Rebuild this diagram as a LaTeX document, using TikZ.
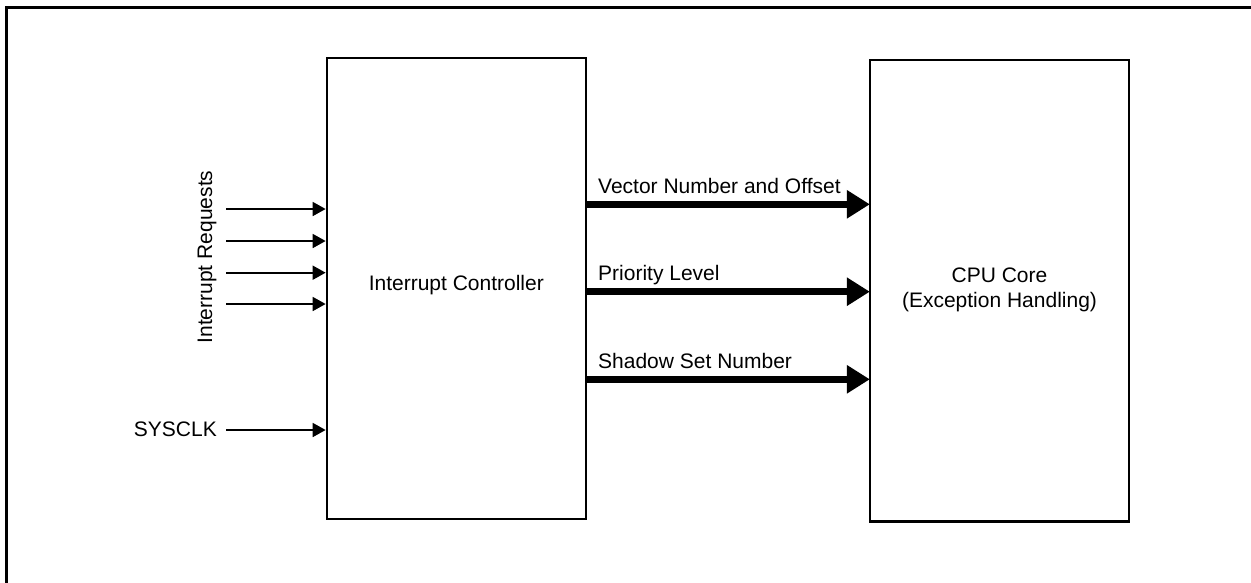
\documentclass[tikz,border=0pt]{standalone}
\usepackage{fontspec}
\setmainfont{Liberation Sans}
\usetikzlibrary{arrows.meta}
\tikzset{
  blockbox/.style={draw, line width=2.3pt, minimum width=259pt, minimum height=461pt, inner sep=0pt},
  lbl/.style={font=\fontsize{21}{25.5}\selectfont, inner sep=0pt},
  thin/.style={line width=1.7pt, -{Triangle[length=13pt,width=14pt]}},
  thick/.style={line width=7pt, -{Triangle[length=23pt,width=27pt]}, shorten >=-1pt},
}
\begin{document}
\begin{tikzpicture}[x=1pt,y=-1pt]
\useasboundingbox (0,0) rectangle (1251,582);
% outer frame (open)
\draw[line width=2.3pt] (6.5,583) -- (6.5,7.5) -- (1252,7.5);
% blocks
\node[blockbox] (ctrl) at (456.3,288.8) {};
\node[blockbox, minimum height=461.5pt] (cpu) at (999.5,290.8) {};
\node[lbl] (ctrltxt) at (456.3,285) {Interrupt Controller};
\node[lbl, align=center] (cputxt) at (999.5,290) {CPU Core\\(Exception Handling)};
% input arrows
\coordinate (i1) at (226,209);
\coordinate (i2) at (226,241);
\coordinate (i3) at (226,272.7);
\coordinate (i4) at (226,304);
\coordinate (ck) at (226,430);
\foreach \c in {i1,i2,i3,i4,ck}
  \draw[thin] (\c) -- (ctrl.west |- \c);
\node[lbl, rotate=90] (irq) at (207,257) {Interrupt Requests};
\node[lbl, anchor=base east] (sysclk) at (217,436.7) {SYSCLK};
% output bus arrows
\coordinate (o1) at (586,204.3);
\coordinate (o2) at (586,291.7);
\coordinate (o3) at (586,379.3);
\foreach \c in {o1,o2,o3}
  \draw[thick] (\c) -- (cpu.west |- \c);
\node[lbl, anchor=base west] (l1) at (598,193.3) {Vector Number and Offset};
\node[lbl, anchor=base west] (l2) at (598,280.7) {Priority Level};
\node[lbl, anchor=base west] (l3) at (598,368.3) {Shadow Set Number};
\end{tikzpicture}
\end{document}
